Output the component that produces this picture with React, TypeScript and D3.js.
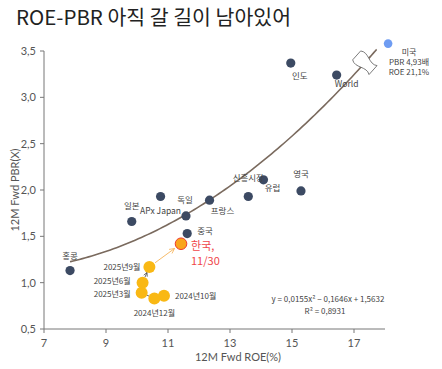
import * as d3 from 'd3';

// ---- data ----
const markets = ['홍콩', '일본', 'APx Japan', '독일', '중국', '프랑스', '신흥시장', '유럽', '영국', '인도', 'World'];
const marketRoe = [7.84, 9.83, 10.76, 11.58, 11.62, 12.34, 13.59, 14.08, 15.29, 14.96, 16.44];
const marketPbr = [1.13, 1.66, 1.93, 1.72, 1.53, 1.89, 1.93, 2.11, 1.99, 3.37, 3.24];

// US is plotted at the axis break
const usPoint = { roe: 18.1, pbr: 3.58 };
const usNote = ['미국', 'PBR 4,93배', 'ROE 21,1%'];

const koreaPath = ['2024년10월', '2024년12월', '2025년3월', '2025년6월', '2025년9월'];
const koreaRoe = [10.87, 10.56, 10.15, 10.18, 10.4];
const koreaPbr = [0.86, 0.83, 0.89, 1.0, 1.17];
const koreaNow = { roe: 11.42, pbr: 1.42, label: ['한국,', '11/30'] };

const fit = [0.0155, -0.1646, 1.5632]; // a, b, c
const fitRange = [7.84, 17.73];
const fitText = ['y = 0,0155x² − 0,1646x + 1,5632', 'R² = 0,8931'];

const xTicks = [7, 9, 11, 13, 15, 17];
const yTicks = [0.5, 1.0, 1.5, 2.0, 2.5, 3.0, 3.5];

// label placement (px offsets from the point)
const labelOffsets: Record<string, [number, number, string]> = {
  '홍콩': [0, -12, 'middle'],
  '일본': [0, -13, 'middle'],
  'APx Japan': [0, 18, 'middle'],
  '독일': [-1, -13, 'middle'],
  '중국': [10, 0, 'start'],
  '프랑스': [13, 14, 'middle'],
  '신흥시장': [0, -15, 'middle'],
  '유럽': [9, 11, 'middle'],
  '영국': [0, -14, 'middle'],
  '인도': [9, 16, 'middle'],
  'World': [10, 12, 'middle'],
  '2024년10월': [11, 3, 'start'],
  '2024년12월': [0, 18, 'middle'],
  '2025년3월': [-11, 4.5, 'end'],
  '2025년6월': [-12, 1.5, 'end'],
  '2025년9월': [-9, 3, 'end'],
};

const W = 442;
const H = 369;
const font = "'Noto Sans CJK KR', 'Noto Sans', sans-serif";
const numFont = "Lato, 'Noto Sans', sans-serif";

export default function App() {
  const x = d3.scaleLinear().domain([7, 18]).range([44, 385]);
  const y = d3.scaleLinear().domain([0.5, 3.5]).range([329, 51]);
  const comma = (v: number) => d3.format('.1f')(v).replace('.', ',');
  const f = (r: number) => fit[0] * r * r + fit[1] * r + fit[2];

  const trend = d3
    .line<number>()
    .x((r) => x(r))
    .y((r) => y(f(r)))
    .curve(d3.curveBasis)(d3.range(fitRange[0], fitRange[1] + 0.001, 0.1).concat([fitRange[1]]));

  // break marker on the trend line
  const bx = 17.35;
  const slope = ((2 * fit[0] * bx + fit[1]) * (y(0) - y(1))) / (x(1) - x(0));
  const bAngle = (-Math.atan(slope) * 180) / Math.PI;

  const seg = (x1: number, y1: number, x2: number, y2: number, r1: number, r2: number) => {
    const dx = x2 - x1;
    const dy = y2 - y1;
    const d = Math.hypot(dx, dy);
    return {
      x1: x1 + (dx / d) * r1,
      y1: y1 + (dy / d) * r1,
      x2: x2 - (dx / d) * r2,
      y2: y2 - (dy / d) * r2,
    };
  };

  const i9 = 4;
  const i6 = 3;
  const i3 = 2;
  const i12 = 1;
  const orangeArrow = seg(x(koreaRoe[i9]), y(koreaPbr[i9]), x(koreaNow.roe), y(koreaNow.pbr), 7, 8);
  const darkArrow = seg(x(koreaRoe[i6]), y(koreaPbr[i6]), x(koreaRoe[i9]), y(koreaPbr[i9]), 6, 6);
  const darkLink = seg(x(koreaRoe[i3]), y(koreaPbr[i3]), x(koreaRoe[i12]), y(koreaPbr[i12]), 5.5, 5.5);

  const labelColor = '#444';
  const axisColor = '#777';

  return (
    <svg width={W} height={H} style={{ position: 'absolute', left: 0, top: 0, background: '#fff' }}>
      <defs>
        <marker id="arrO" viewBox="0 0 10 10" refX="9" refY="5" markerWidth="7" markerHeight="7" orient="auto">
          <path d="M1,1 L9,5 L1,9" fill="none" stroke="#f5b35a" strokeWidth="1.2" />
        </marker>
        <marker id="arrD" viewBox="0 0 10 10" refX="9" refY="5" markerWidth="6" markerHeight="6" orient="auto">
          <path d="M1,1 L9,5 L1,9" fill="none" stroke="#444" strokeWidth="1.4" />
        </marker>
      </defs>

      <text x={16} y={25} fontFamily={font} fontSize={20.5} fill="#222">
        ROE-PBR 아직 갈 길이 남아있어
      </text>

      {/* axes */}
      <line x1={x(7)} x2={x(7)} y1={y(3.5)} y2={y(0.5)} stroke={axisColor} />
      <line x1={x(7)} x2={x(18)} y1={y(0.5)} y2={y(0.5)} stroke={axisColor} />
      {yTicks.map((t) => (
        <g key={'y' + t}>
          <line x1={x(7) - 4} x2={x(7)} y1={y(t)} y2={y(t)} stroke={axisColor} />
          <text x={x(7) - 8} y={y(t)} dy="0.35em" textAnchor="end" fontFamily={numFont} fontSize={11} fill="#555">
            {comma(t)}
          </text>
        </g>
      ))}
      {xTicks.map((t) => (
        <g key={'x' + t}>
          <line x1={x(t)} x2={x(t)} y1={y(0.5)} y2={y(0.5) + 4} stroke={axisColor} />
          <text x={x(t)} y={347} textAnchor="middle" fontFamily={numFont} fontSize={11} fill="#555">
            {t}
          </text>
        </g>
      ))}
      <text x={238} y={361} textAnchor="middle" fontFamily={numFont} fontSize={11} fill="#555">
        12M Fwd ROE(%)
      </text>
      <text
        transform={`translate(19,190) rotate(-90)`}
        textAnchor="middle"
        fontFamily={numFont}
        fontSize={11}
        fill="#555"
      >
        12M Fwd PBR(X)
      </text>

      {/* trend */}
      <path d={trend ?? ''} fill="none" stroke="#7a6a5e" strokeWidth={1.6} />
      <path
        transform={`translate(${x(bx)},${y(f(bx))}) rotate(${bAngle})`}
        d="M -6,-11 C -11,-4 -1,4 -6,11 L 6,11 C 1,4 11,-4 6,-11 Z"
        fill="#fff"
        stroke="#666"
        strokeWidth={0.8}
      />

      {/* market points */}
      {markets.map((m, i) => (
        <circle key={m} cx={x(marketRoe[i])} cy={y(marketPbr[i])} r={4.6} fill="#3c4a63" />
      ))}
      {markets.map((m, i) => {
        const [dx, dy, anchor] = labelOffsets[m];
        return (
          <text
            key={'l' + m}
            x={x(marketRoe[i]) + dx}
            y={y(marketPbr[i]) + dy}
            textAnchor={anchor}
            fontFamily={font}
            fontSize={8.5}
            fill={labelColor}
          >
            {m}
          </text>
        );
      })}

      {/* US */}
      <circle cx={x(usPoint.roe)} cy={y(usPoint.pbr)} r={4.3} fill="#6e9cf2" />
      {usNote.map((s, i) => (
        <text key={s} x={409} y={55 + i * 10} textAnchor="middle" fontFamily={font} fontSize={8} fill={labelColor}>
          {s}
        </text>
      ))}

      {/* Korea path */}
      <line {...orangeArrow} stroke="#f5b35a" strokeWidth={0.9} markerEnd="url(#arrO)" />
      <line {...darkArrow} stroke="#444" strokeWidth={0.8} markerEnd="url(#arrD)" />
      <line {...darkLink} stroke="#444" strokeWidth={0.8} />
      {koreaPath.map((m, i) => (
        <circle key={m} cx={x(koreaRoe[i])} cy={y(koreaPbr[i])} r={6} fill="#f9b814" />
      ))}
      {koreaPath.map((m, i) => {
        const [dx, dy, anchor] = labelOffsets[m];
        return (
          <text
            key={'l' + m}
            x={x(koreaRoe[i]) + dx}
            y={y(koreaPbr[i]) + dy}
            textAnchor={anchor}
            fontFamily={font}
            fontSize={8}
            fill={labelColor}
          >
            {m}
          </text>
        );
      })}
      <circle cx={x(koreaNow.roe)} cy={y(koreaNow.pbr)} r={5.8} fill="#f9a51c" stroke="#ee3a2c" strokeWidth={1} />
      {koreaNow.label.map((s, i) => (
        <text
          key={s}
          x={x(koreaNow.roe) + 10}
          y={y(koreaNow.pbr) + 6 + i * 15}
          fontFamily={font}
          fontSize={11}
          fill="#f0464a"
        >
          {s}
        </text>
      ))}

      {/* fit equation */}
      {fitText.map((s, i) => (
        <text key={s} x={i === 0 ? 328 : 325} y={302 + i * 12} textAnchor="middle" fontFamily={font} fontSize={8} fill={labelColor}>
          {s}
        </text>
      ))}
    </svg>
  );
}
